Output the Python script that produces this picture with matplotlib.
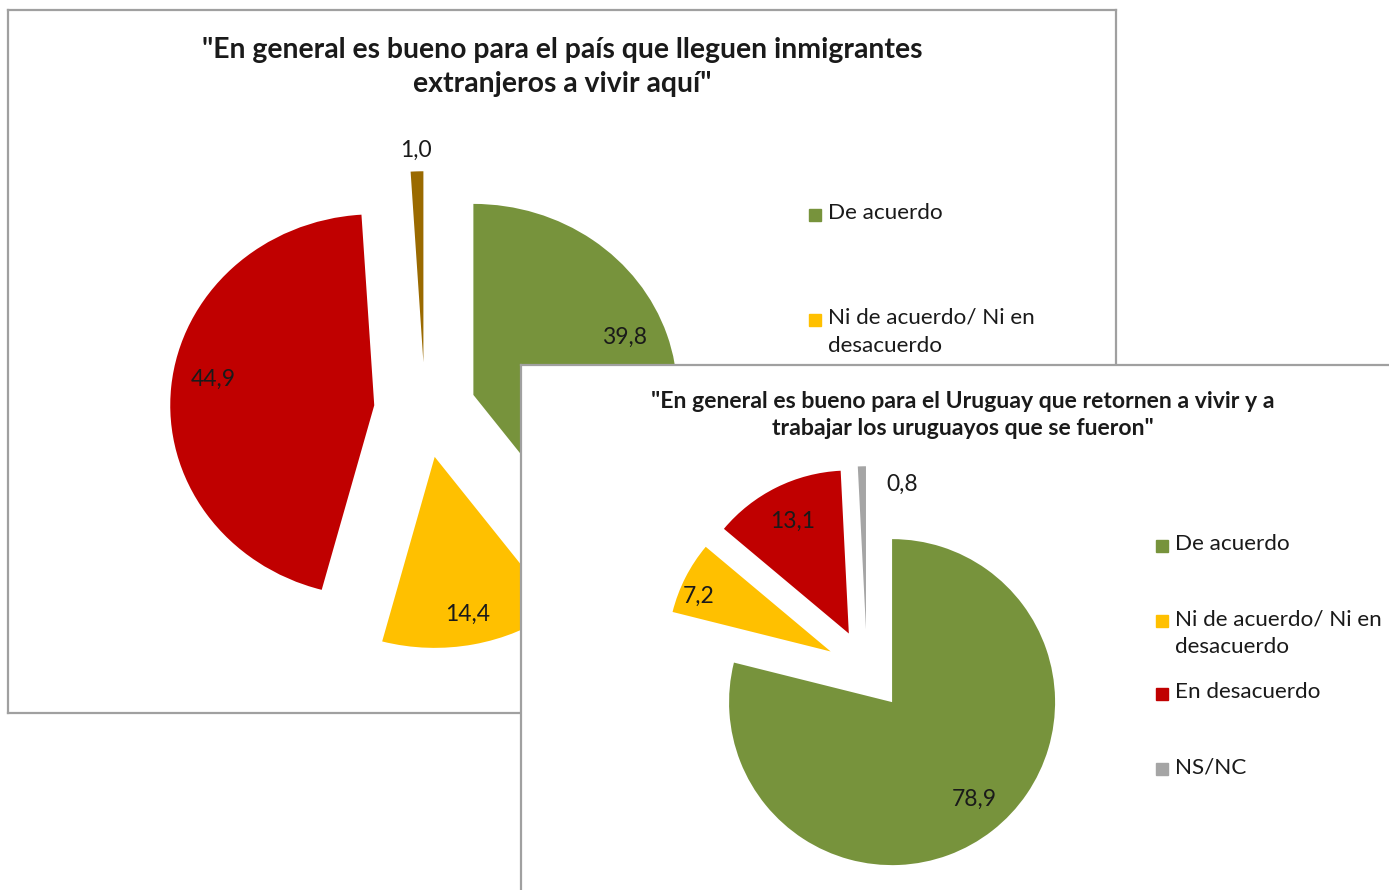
import math

import matplotlib
matplotlib.use('Agg')
from matplotlib import pyplot as plt
from matplotlib.patches import Rectangle

# data
categories = ['De acuerdo', 'Ni de acuerdo/ Ni en\ndesacuerdo', 'En desacuerdo', 'NS/NC']
inmigrantes = [39.8, 14.4, 44.9, 1.0]
retornados = [78.9, 7.2, 13.1, 0.8]
title1 = '"En general es bueno para el país que lleguen inmigrantes\nextranjeros a vivir aquí"'
title2 = '"En general es bueno para el Uruguay que retornen a vivir y a\ntrabajar los uruguayos que se fueron"'

colors1 = ['#77933C', '#FFC000', '#C00000', '#9A6A00']
colors2 = ['#77933C', '#FFC000', '#C00000', '#A5A5A5']

W, H = 1389, 890
plt.rcParams['font.family'] = ['Lato', 'DejaVu Sans']

fig = plt.figure(figsize=(W / 100, H / 100), dpi=100)
fig.patch.set_facecolor('white')


def fx(x):
    return x / W


def fy(y):
    return 1 - y / H


def px_axes(x0, y0, x1, y1):
    return fig.add_axes([fx(x0), fy(y1), (x1 - x0) / W, (y1 - y0) / H])


def panel(x0, y0, x1, y1):
    ax = px_axes(x0, y0, x1, y1)
    ax.set_xticks([])
    ax.set_yticks([])
    ax.set_facecolor('white')
    for s in ax.spines.values():
        s.set_color('#A0A0A0')
        s.set_linewidth(1.6)
    return ax


def fmt(v):
    return ('%.1f' % v).replace('.', ',')


def draw_pie(cx, cy, rx, ry, values, colors, dists, shifts):
    half = 1.3
    ax = px_axes(cx - half * rx, cy - half * ry, cx + half * rx, cy + half * ry)
    wedges, _ = ax.pie(values, colors=colors, startangle=90, counterclock=False,
                       explode=[0.25] * len(values), radius=1,
                       wedgeprops=dict(linewidth=0))
    ax.set_aspect('auto')
    ax.set_xlim(-half, half)
    ax.set_ylim(-half, half)
    ax.axis('off')
    for w, v, d, sh in zip(wedges, values, dists, shifts):
        t = math.radians((w.theta1 + w.theta2) / 2 + sh)
        x = w.center[0] + d * math.cos(t)
        y = w.center[1] + d * math.sin(t)
        ax.text(x, y, fmt(v), ha='center', va='center', fontsize=16.5, color='#1a1a1a')
    return ax


def legend(ax, x, ys, labels, colors):
    # ys: vertical centre of each entry's first line
    for y, lab, c in zip(ys, labels, colors):
        ax.add_patch(Rectangle((fx(x - 19), fy(y + 7)), 12 / W, 12 / H,
                               transform=fig.transFigure, color=c, clip_on=False))
        ax.text(fx(x), fy(y - 11), lab, transform=fig.transFigure, ha='left', va='top',
                fontsize=16.2, color='#1a1a1a', linespacing=1.5, clip_on=False)


# panel 1 (its lower legend entries sit under panel 2)
ax1 = panel(8, 10, 1116, 713)
ax1.text(fx(562), fy(67), title1, transform=fig.transFigure, ha='center', va='center',
         fontsize=20.4, fontweight='bold', color='#1a1a1a', linespacing=1.38)
legend(ax1, 828, [214, 319], categories[:2], colors1[:2])
draw_pie(425, 410, 204, 191, inmigrantes, colors1, [0.80, 0.84, 0.80, 1.11], [3.5, 0, -4, 0])

# panel 2
ax2 = panel(521, 365, 1420, 920)
ax2.text(fx(963), fy(415), title2, transform=fig.transFigure, ha='center', va='center',
         fontsize=16.6, fontweight='bold', color='#1a1a1a', linespacing=1.35)
legend(ax2, 1175, [545, 620, 693, 768], categories, colors2)
draw_pie(867, 670, 163, 163, retornados, colors2, [0.78, 0.88, 0.77, 0.92], [2, 4.5, 0, -15.6])

fig.savefig('out.png', dpi=100)
